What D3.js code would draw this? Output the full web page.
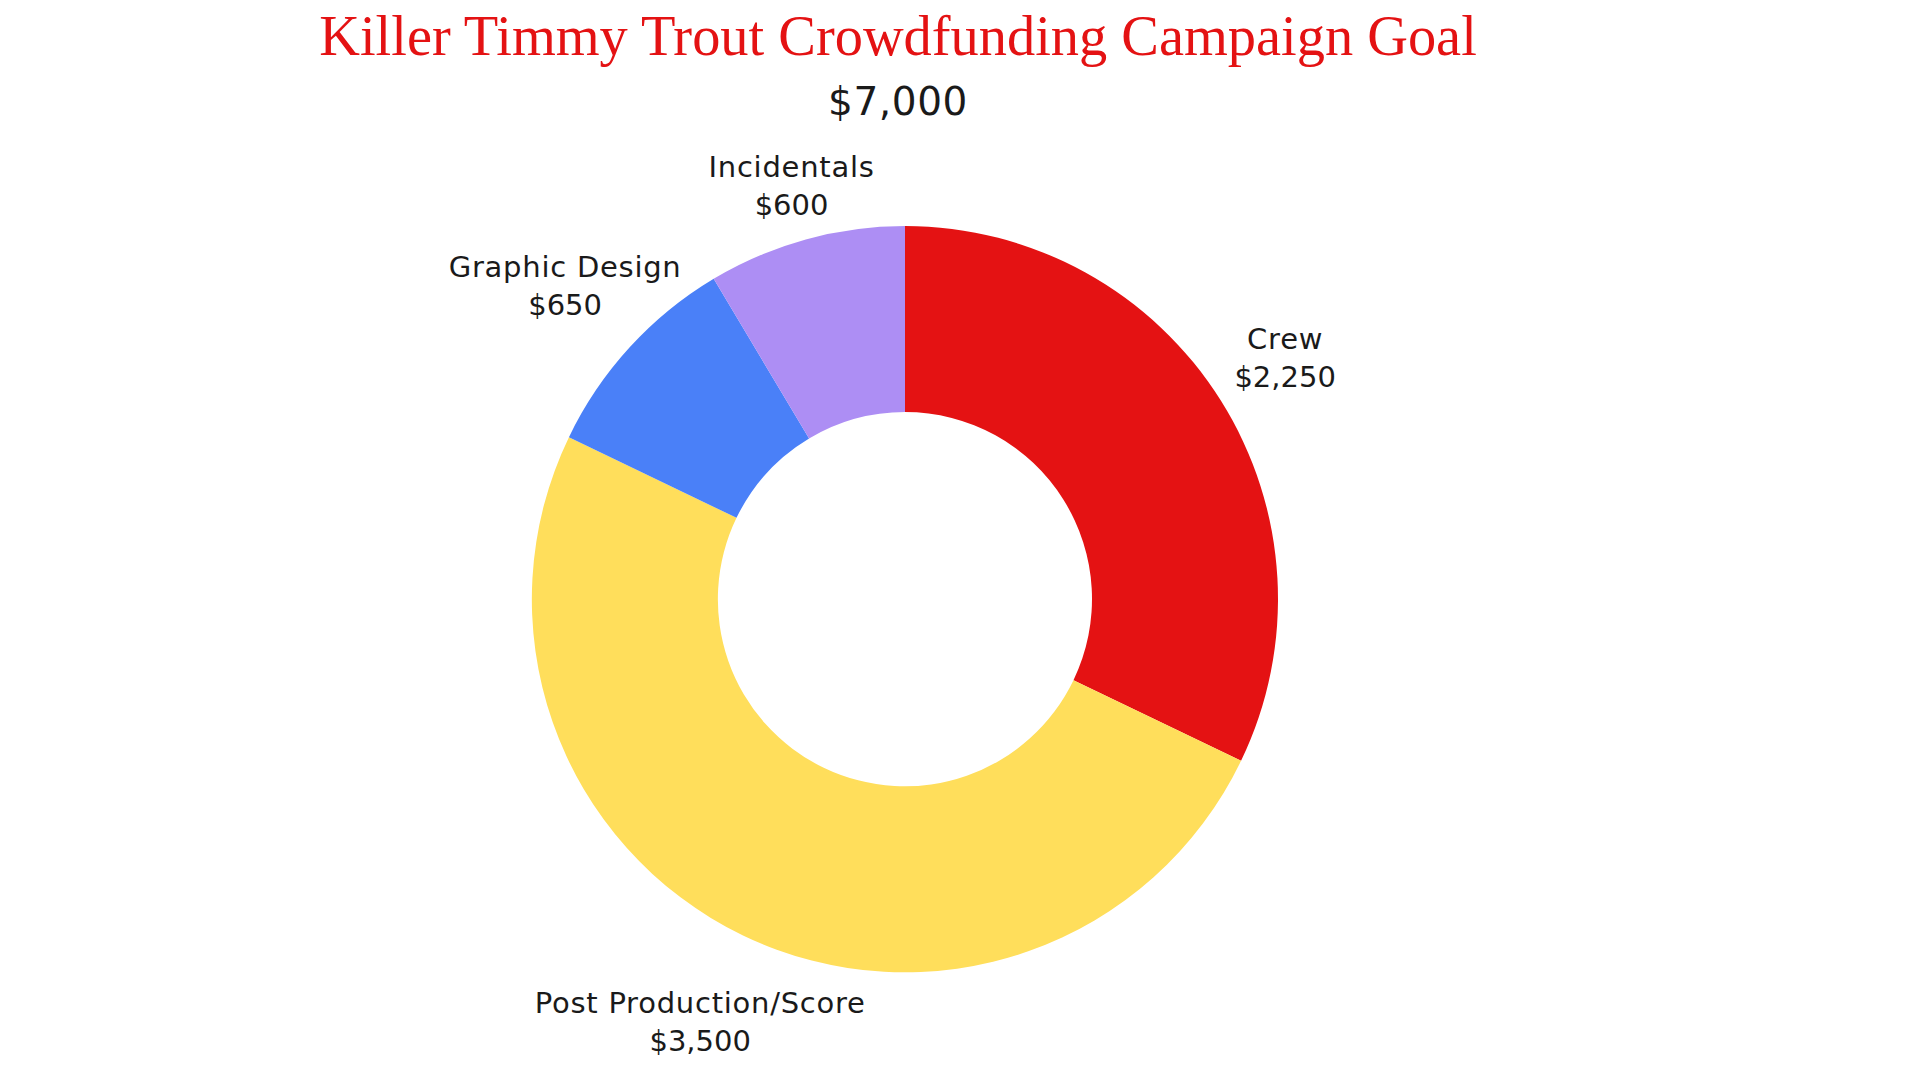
<!DOCTYPE html>
<html>
<head>
<meta charset="utf-8">
<script src="https://cdn.jsdelivr.net/npm/d3@7"></script>
<style>
  html, body { margin: 0; padding: 0; background: #fff; }
  svg { display: block; }
</style>
</head>
<body>
<div id="chart"></div>
<script>
var categories = ['Crew', 'Post Production/Score', 'Graphic Design', 'Incidentals'];
var values = [2250, 3500, 650, 600];
var valueLabels = ['$2,250', '$3,500', '$650', '$600'];
var colors = ['#e41213', '#ffde5b', '#4a80f8', '#ad8ef4'];
var titleText = 'Killer Timmy Trout Crowdfunding Campaign Goal';
var totalText = '$7,000';

var width = 1920, height = 1080;
var cx = 905, cy = 599;
var outerR = 373, innerR = 187;
var labelFont = 29, labelGap = 18;

var svg = d3.select('#chart').append('svg')
    .attr('width', width)
    .attr('height', height);

// title + total
svg.append('text')
    .attr('x', 898)
    .attr('y', 55)
    .attr('text-anchor', 'middle')
    .style('font-family', '"Liberation Serif", "Times New Roman", serif')
    .style('font-size', '56.4px')
    .style('fill', '#e41213')
    .text(titleText);
svg.append('text')
    .attr('x', 898)
    .attr('y', 115)
    .attr('text-anchor', 'middle')
    .style('font-family', '"DejaVu Sans", sans-serif')
    .style('font-size', '39px')
    .style('letter-spacing', '0.6px')
    .style('fill', '#1a1a1a')
    .text(totalText);

var data = categories.map(function (c, i) {
    return { name: c, value: values[i], label: valueLabels[i], color: colors[i] };
});

var pie = d3.pie()
    .sort(null)
    .value(function (d) { return d.value; });
var arc = d3.arc()
    .innerRadius(innerR)
    .outerRadius(outerR);

var g = svg.append('g')
    .attr('transform', 'translate(' + cx + ',' + cy + ')');

var arcs = pie(data);

g.selectAll('.slice')
    .data(arcs)
    .enter()
    .append('path')
    .attr('class', 'slice')
    .attr('d', arc)
    .style('fill', function (d) { return d.data.color; });

// outside labels: push each two-line block out along the mid angle
// until none of its line boxes touch the ring (plus a small gap)
var baselines = [-11, 27];
var spacing = ['0.75px', '0px'];
function rectDist(x0, y0, x1, y1) {
    var dx = Math.max(x0, 0, -x1);
    var dy = Math.max(y0, 0, -y1);
    return Math.sqrt(dx * dx + dy * dy);
}

var labels = g.selectAll('.label')
    .data(arcs)
    .enter()
    .append('text')
    .attr('class', 'label')
    .attr('text-anchor', 'middle')
    .style('font-family', '"DejaVu Sans", sans-serif')
    .style('font-size', labelFont + 'px')
    .style('fill', '#1a1a1a');

labels.each(function (d) {
    var el = d3.select(this);
    var lines = [d.data.name, d.data.label];
    var spans = lines.map(function (s, i) {
        return el.append('tspan').attr('x', 0)
            .style('letter-spacing', spacing[i])
            .text(s);
    });
    var widths = spans.map(function (s) { return s.node().getComputedTextLength(); });
    var a = (d.startAngle + d.endAngle) / 2;
    var ux = Math.sin(a), uy = -Math.cos(a);
    var t = outerR;
    var ok = false;
    while (!ok && t < outerR + 400) {
        var px = ux * t, py = uy * t;
        ok = widths.every(function (w, i) {
            var top = py + baselines[i] - 0.86 * labelFont;
            var bot = py + baselines[i] + 0.02 * labelFont;
            return rectDist(px - w / 2, top, px + w / 2, bot) >= outerR + labelGap;
        });
        if (!ok) t += 0.5;
    }
    spans.forEach(function (s, i) {
        s.attr('x', ux * t).attr('y', uy * t + baselines[i]);
    });
});
</script>
</body>
</html>
